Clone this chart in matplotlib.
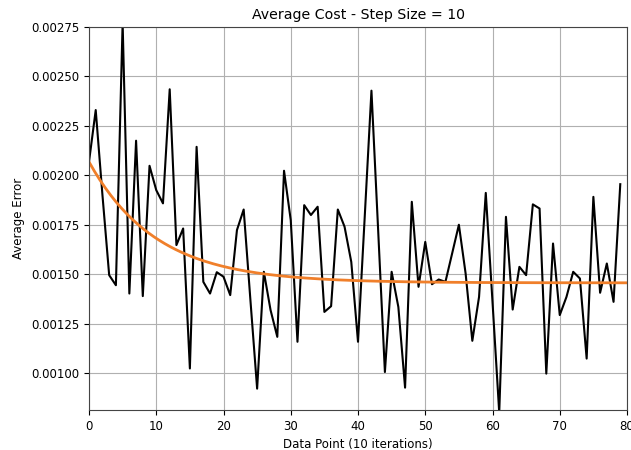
import numpy as np
import matplotlib.pyplot as plt

# average error per data point (one point every 10 iterations)
avg_error = [
    0.002068, 0.002330, 0.001900, 0.001495, 0.001444, 0.002770, 0.001402, 0.002175, 0.001389, 0.002048,
    0.001925, 0.001858, 0.002435, 0.001647, 0.001731, 0.001023, 0.002144, 0.001461, 0.001402, 0.001510,
    0.001487, 0.001394, 0.001723, 0.001827, 0.001370, 0.000921, 0.001512, 0.001318, 0.001183, 0.002023,
    0.001773, 0.001158, 0.001849, 0.001799, 0.001841, 0.001309, 0.001338, 0.001827, 0.001740, 0.001562,
    0.001158, 0.001790, 0.002428, 0.001720, 0.001005, 0.001512, 0.001334, 0.000926, 0.001866, 0.001436,
    0.001663, 0.001449, 0.001473, 0.001461, 0.001605, 0.001750, 0.001504, 0.001163, 0.001385, 0.001911,
    0.001360, 0.000800, 0.001790, 0.001321, 0.001537, 0.001495, 0.001853, 0.001832, 0.000997, 0.001655,
    0.001293, 0.001385, 0.001512, 0.001478, 0.001073, 0.001891, 0.001406, 0.001554, 0.001360, 0.001955,
]
data_points = np.arange(len(avg_error))

# exponential fit: a + b * exp(-c * x)
fit_a = 0.001456
fit_b = 0.000612
fit_c = 0.10
fit_x = np.linspace(0, 80, 200)
fit_y = fit_a + fit_b * np.exp(-fit_c * fit_x)

fig = plt.figure(figsize=(6.31, 4.5), dpi=100)
ax = fig.add_axes([89 / 631, 40 / 450, 538 / 631, 383 / 450])
ax.plot(data_points, avg_error, color='black', linewidth=1.5)
ax.plot(fit_x, fit_y, color='#f07f2a', linewidth=2)
ax.set_xlim(0, 80)
ax.set_ylim(0.000813, 0.00275)
ax.set_yticks(np.arange(0.001, 0.0027501, 0.00025))
ax.grid(True)
ax.tick_params(labelsize=8.5)
for s in ax.spines.values():
    s.set_edgecolor('#444444')
ax.set_title('Average Cost - Step Size = 10', fontsize=10.2)
ax.set_xlabel('Data Point (10 iterations)', fontsize=8.5)
ax.set_ylabel('Average Error', fontsize=8.5)
plt.savefig('out.png', dpi=100)
